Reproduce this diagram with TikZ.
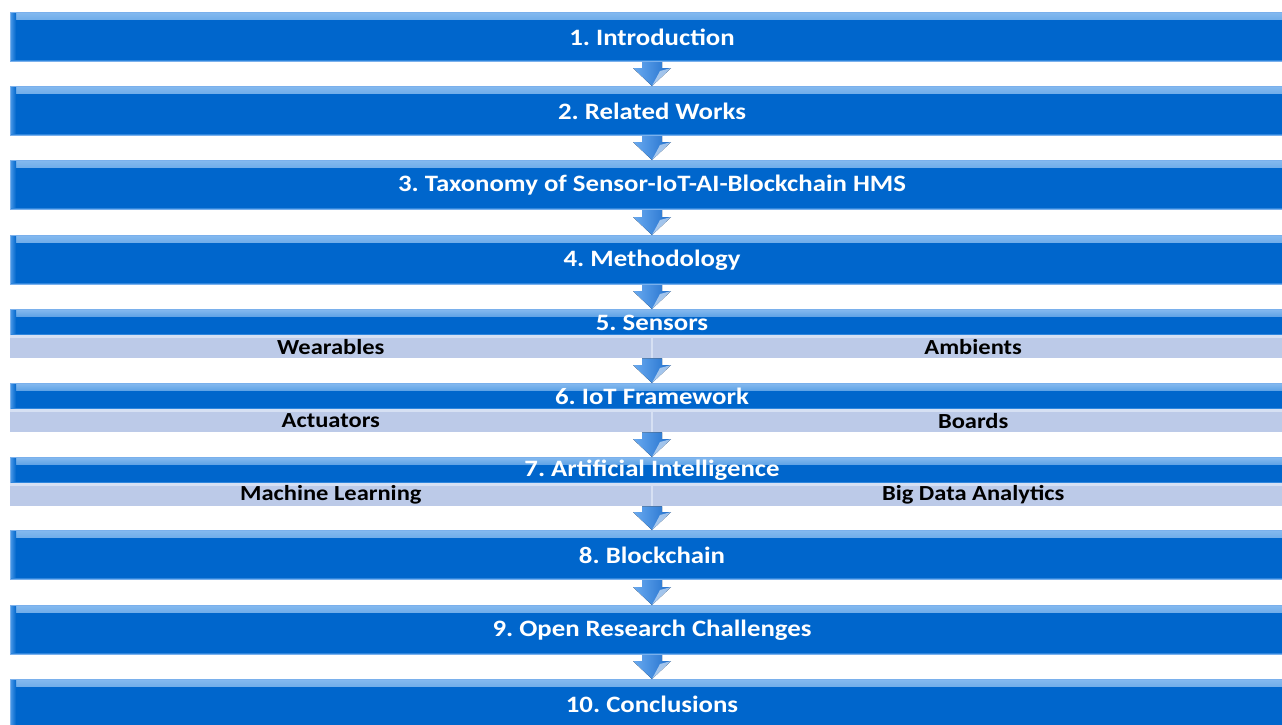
\documentclass[tikz,border=0pt]{standalone}
\usepackage{fontspec}
\setmainfont{Carlito}[FakeStretch=1.14]
\frenchspacing
\usetikzlibrary{calc}
\definecolor{barblue}{HTML}{0066CC}
\definecolor{bevel}{HTML}{4E9BE8}
\definecolor{edge}{HTML}{7AB0EC}
\definecolor{subfill}{HTML}{BCCAE8}
\definecolor{subedge}{HTML}{D6E0F3}
\definecolor{arrlight}{HTML}{6AAAF0}
\definecolor{arrdark}{HTML}{1F6FCC}
\tikzset{
  bar/.style={fill=barblue, draw=edge, line width=1pt, inner sep=0pt,
    minimum width=1284pt, text=white, font=\fontsize{23.5}{26}\selectfont\bfseries,
    path picture={
      \fill[top color=bevel!70!white, bottom color=barblue]
        (path picture bounding box.north west) rectangle
        ([yshift=-7pt]path picture bounding box.north east);
      \fill[left color=bevel, right color=barblue]
        (path picture bounding box.north west) rectangle
        ([xshift=6pt]path picture bounding box.south west);
      \fill[bevel!60!barblue]
        ([yshift=2pt]path picture bounding box.south west) rectangle
        (path picture bounding box.south east);
    }},
  tallbar/.style={bar, minimum height=49pt},
  headbar/.style={bar, minimum height=26pt},
  subbar/.style={fill=subfill, inner sep=0pt, minimum width=642pt, minimum height=23pt,
    text=black, font=\fontsize{21.5}{23}\selectfont\bfseries,
    path picture={
      \fill[subedge] (path picture bounding box.north west) rectangle
        ([yshift=-3pt]path picture bounding box.north east);
    }},
  divider/.style={draw=subedge, line width=2.5pt},
  blockarrow/.style={left color=arrlight, right color=arrdark, draw=none},
  arrhi/.style={fill=white, opacity=0.55, draw=none}
}
\newcommand{\blockarr}[2]{%
  \fill[blockarrow] ($(#1.south)+(-10,0)$) -- ($(#1.south)+(10,0)$)
    -- ($(#2.north)+(10,-18)$) -- ($(#2.north)+(19,-18)$) -- (#2.north)
    -- ($(#2.north)+(-19,-18)$) -- ($(#2.north)+(-10,-18)$) -- cycle;
  \fill[arrhi] ($(#2.north)+(19,-18)$) -- (#2.north) -- ($(#2.north)+(8,-15)$) -- cycle;
}
\begin{document}
\begin{tikzpicture}[x=1pt,y=-1pt]
\clip (0,0) rectangle (1282,724);
\fill[white] (0,0) rectangle (1282,724);
% bars
\node[tallbar, anchor=north] (b1) at (652,12) {1. Introduction};
\node[tallbar, anchor=north] (b2) at (652,86) {2. Related Works};
\node[tallbar, anchor=north] (b3) at (652,160) {3. Taxonomy of Sensor-IoT-AI-Blockchain HMS};
\node[tallbar, anchor=north] (b4) at (652,235) {4. Methodology};
\node[headbar, anchor=north] (b5) at (652,309) {5. Sensors};
\node[subbar, anchor=north east] (s5l) at (652,335) {Wearables};
\node[subbar, anchor=north west] (s5r) at (652,335) {Ambients};
\node[headbar, anchor=north] (b6) at (652,383) {6. IoT Framework};
\node[subbar, anchor=north east] (s6l) at (652,409) {Actuators};
\node[subbar, anchor=north west] (s6r) at (652,409) {Boards};
\node[headbar, anchor=north] (b7) at (652,457) {7. Artificial Intelligence};
\node[subbar, anchor=north east] (s7l) at (652,483) {Machine Learning};
\node[subbar, anchor=north west] (s7r) at (652,483) {Big Data Analytics};
\node[tallbar, anchor=north] (b8) at (652,530) {8. Blockchain};
\node[tallbar, anchor=north] (b9) at (652,605) {9. Open Research Challenges};
\node[tallbar, anchor=north] (b10) at (652,679) {10. Conclusions};
% dividers
\draw[divider] (s5l.north east) -- (s5l.south east);
\draw[divider] (s6l.north east) -- (s6l.south east);
\draw[divider] (s7l.north east) -- (s7l.south east);
\coordinate (c5) at (s5l.south east);
\coordinate (c6) at (s6l.south east);
\coordinate (c7) at (s7l.south east);
% arrows
\blockarr{b1}{b2}
\blockarr{b2}{b3}
\blockarr{b3}{b4}
\blockarr{b4}{b5}
\blockarr{c5}{b6}
\blockarr{c6}{b7}
\blockarr{c7}{b8}
\blockarr{b8}{b9}
\blockarr{b9}{b10}
\end{tikzpicture}
\end{document}
